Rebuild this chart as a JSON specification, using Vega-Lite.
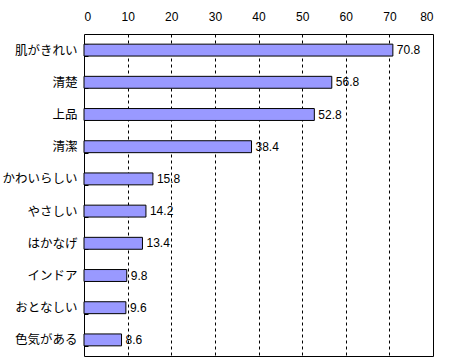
{
  "$schema": "https://vega.github.io/schema/vega-lite/v6.json",
  "autosize": "none",
  "width": 349,
  "height": 322,
  "padding": {"left": 84, "top": 34, "right": 17, "bottom": 6},
  "background": "white",
  "config": {
    "view": {"stroke": "black", "strokeWidth": 1},
    "font": "Noto Sans CJK JP"
  },
  "data": {
    "values": [
      {"label": "肌がきれい", "value": 70.8},
      {"label": "清楚", "value": 56.8},
      {"label": "上品", "value": 52.8},
      {"label": "清潔", "value": 38.4},
      {"label": "かわいらしい", "value": 15.8},
      {"label": "やさしい", "value": 14.2},
      {"label": "はかなげ", "value": 13.4},
      {"label": "インドア", "value": 9.8},
      {"label": "おとなしい", "value": 9.6},
      {"label": "色気がある", "value": 8.6}
    ]
  },
  "encoding": {
    "y": {
      "field": "label",
      "type": "nominal",
      "sort": null,
      "title": null,
      "scale": {"paddingInner": 0.63, "paddingOuter": 0.315},
      "axis": {
        "domain": false,
        "tickBand": "extent",
        "tickSize": -4,
        "tickColor": "black",
        "labelPadding": 11,
        "labelFont": "Noto Sans CJK JP",
        "labelFontSize": 12.5,
        "labelColor": "black"
      }
    },
    "x": {
      "field": "value",
      "type": "quantitative",
      "title": null,
      "scale": {"domain": [0, 80], "nice": false},
      "axis": {
        "orient": "top",
        "values": [0, 10, 20, 30, 40, 50, 60, 70, 80],
        "domain": false,
        "ticks": false,
        "labelPadding": 11,
        "labelFont": "Liberation Sans",
        "labelFontSize": 12,
        "labelColor": "black",
        "grid": true,
        "gridColor": "black",
        "gridDash": [3, 3],
        "gridOpacity": {"condition": {"test": "datum.value == 0 || datum.value == 80", "value": 0}, "value": 1}
      }
    }
  },
  "layer": [
    {
      "mark": {"type": "bar", "fill": "#9999FF", "stroke": "black", "strokeWidth": 1}
    },
    {
      "mark": {"type": "text", "align": "left", "dx": 4, "font": "Liberation Sans", "fontSize": 12, "color": "black"},
      "encoding": {"text": {"field": "value", "type": "quantitative", "format": ".1f"}}
    }
  ]
}
